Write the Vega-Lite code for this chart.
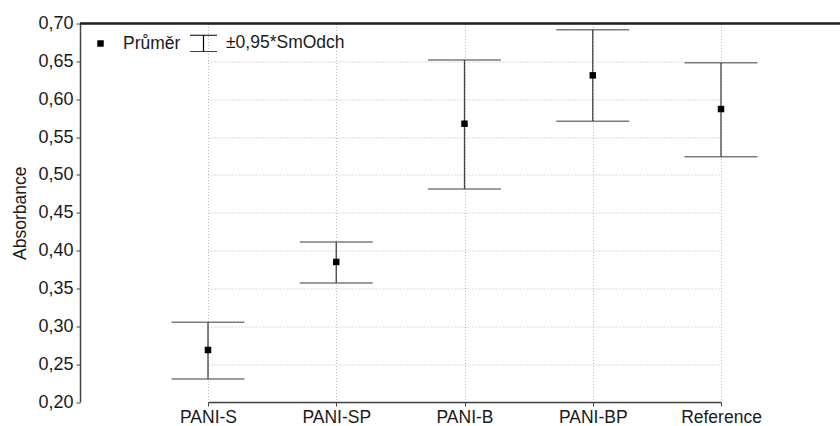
{
  "$schema": "https://vega.github.io/schema/vega-lite/v6.json",
  "width": 760,
  "height": 378.5,
  "autosize": {"type": "none"},
  "padding": {"left": 80, "top": 23.5, "right": 0, "bottom": 24},
  "background": "white",
  "config": {
    "view": {"stroke": null},
    "font": "Liberation Sans",
    "axis": {
      "labelFont": "Liberation Sans",
      "labelFontSize": 18,
      "labelColor": "#1a1a1a",
      "labelOverlap": false,
      "domainColor": "#444",
      "domainWidth": 1.5,
      "tickColor": "#444",
      "tickSize": 4,
      "gridColor": "#bfb4bf",
      "gridDash": [1, 2],
      "gridWidth": 1
    }
  },
  "data": {
    "values": [
      {"cat": "PANI-S", "mean": 0.2687, "low": 0.2304, "high": 0.3053, "leg": "Průměr"},
      {"cat": "PANI-SP", "mean": 0.385, "low": 0.3572, "high": 0.4114, "leg": "Průměr"},
      {"cat": "PANI-B", "mean": 0.5676, "low": 0.4814, "high": 0.6518, "leg": "Průměr"},
      {"cat": "PANI-BP", "mean": 0.6315, "low": 0.5708, "high": 0.6918, "leg": "Průměr"},
      {"cat": "Reference", "mean": 0.587, "low": 0.524, "high": 0.6482, "leg": "Průměr"}
    ]
  },
  "encoding": {
    "x": {
      "field": "cat",
      "type": "nominal",
      "sort": null,
      "scale": {"type": "point", "range": [128, 641], "padding": 0},
      "axis": {"title": null, "labelAngle": 0, "labelPadding": 2.5, "labelFontSize": 17.5, "grid": true}
    }
  },
  "layer": [
    {
      "mark": {"type": "rule", "color": "#444", "strokeWidth": 1.3},
      "encoding": {
        "y": {
          "field": "low",
          "type": "quantitative",
          "scale": {"domain": [0.2, 0.7], "nice": false, "zero": false},
          "axis": {
            "title": "Absorbance",
            "titleFont": "Liberation Sans",
            "titleFontSize": 17.5,
            "titleFontWeight": "normal",
            "titleColor": "#1a1a1a",
            "titlePadding": 8,
            "values": [0.2, 0.25, 0.3, 0.35, 0.4, 0.45, 0.5, 0.55, 0.6, 0.65, 0.7],
            "labelExpr": "replace(format(datum.value, '.2f'), '.', ',')",
            "labelPadding": 3,
            "grid": true
          }
        },
        "y2": {"field": "high"}
      }
    },
    {
      "mark": {"type": "tick", "color": "#444", "size": 73, "thickness": 1.6},
      "encoding": {"y": {"field": "low", "type": "quantitative", "axis": {
            "title": "Absorbance",
            "titleFont": "Liberation Sans",
            "titleFontSize": 17.5,
            "titleFontWeight": "normal",
            "titleColor": "#1a1a1a",
            "titlePadding": 8,
            "values": [0.2, 0.25, 0.3, 0.35, 0.4, 0.45, 0.5, 0.55, 0.6, 0.65, 0.7],
            "labelExpr": "replace(format(datum.value, '.2f'), '.', ',')",
            "labelPadding": 3,
            "grid": true
          }}}
    },
    {
      "mark": {"type": "tick", "color": "#444", "size": 73, "thickness": 1.6},
      "encoding": {"y": {"field": "high", "type": "quantitative", "axis": {
            "title": "Absorbance",
            "titleFont": "Liberation Sans",
            "titleFontSize": 17.5,
            "titleFontWeight": "normal",
            "titleColor": "#1a1a1a",
            "titlePadding": 8,
            "values": [0.2, 0.25, 0.3, 0.35, 0.4, 0.45, 0.5, 0.55, 0.6, 0.65, 0.7],
            "labelExpr": "replace(format(datum.value, '.2f'), '.', ',')",
            "labelPadding": 3,
            "grid": true
          }}}
    },
    {
      "mark": {"type": "point", "filled": true, "color": "black", "opacity": 1, "size": 729, "strokeWidth": 0},
      "encoding": {
        "y": {"field": "mean", "type": "quantitative", "axis": {
            "title": "Absorbance",
            "titleFont": "Liberation Sans",
            "titleFontSize": 17.5,
            "titleFontWeight": "normal",
            "titleColor": "#1a1a1a",
            "titlePadding": 8,
            "values": [0.2, 0.25, 0.3, 0.35, 0.4, 0.45, 0.5, 0.55, 0.6, 0.65, 0.7],
            "labelExpr": "replace(format(datum.value, '.2f'), '.', ',')",
            "labelPadding": 3,
            "grid": true
          }},
        "shape": {
          "field": "leg",
          "type": "nominal",
          "scale": {
            "domain": ["Průměr", "±0,95*SmOdch"],
            "range": [
              "M-0.24,-0.24H0.24V0.24H-0.24Z",
              "M-1,-0.64H1V-0.57H0.045V0.57H1V0.64H-1V0.57H-0.045V-0.57H-1Z"
            ]
          },
          "legend": {
            "title": null,
            "orient": "none",
            "legendX": 7,
            "legendY": 6,
            "direction": "horizontal",
            "padding": 0,
            "columnPadding": 9,
            "symbolSize": 729,
            "symbolFillColor": "black",
            "symbolStrokeWidth": 0,
            "symbolOpacity": 1,
            "labelFont": "Liberation Sans",
            "labelFontSize": 17.5,
            "labelColor": "#1a1a1a",
            "labelOffset": 9,
            "labelLimit": 300
          }
        }
      }
    },
    {
      "mark": {"type": "rule", "color": "#222", "strokeWidth": 1.5},
      "encoding": {"x": null, "y": {"datum": 0.7, "type": "quantitative", "axis": {
            "title": "Absorbance",
            "titleFont": "Liberation Sans",
            "titleFontSize": 17.5,
            "titleFontWeight": "normal",
            "titleColor": "#1a1a1a",
            "titlePadding": 8,
            "values": [0.2, 0.25, 0.3, 0.35, 0.4, 0.45, 0.5, 0.55, 0.6, 0.65, 0.7],
            "labelExpr": "replace(format(datum.value, '.2f'), '.', ',')",
            "labelPadding": 3,
            "grid": true
          }}}
    }
  ]
}
